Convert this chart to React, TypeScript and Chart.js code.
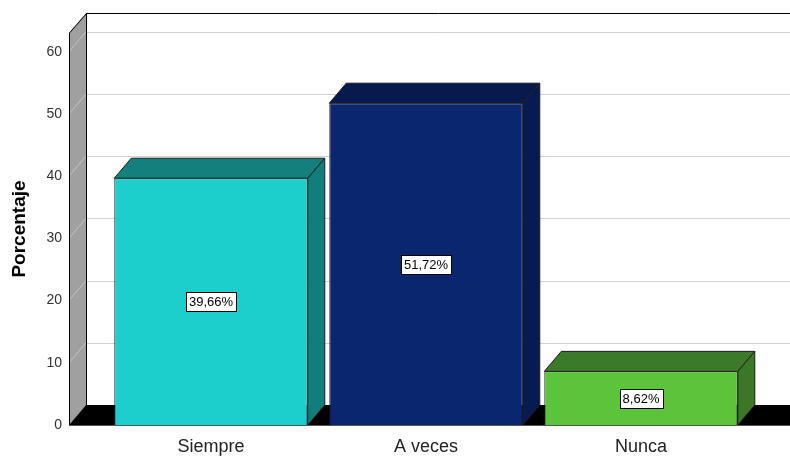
import React, { useEffect, useRef } from "react";
import { Chart, registerables } from "chart.js";

Chart.register(...registerables);

const categories = ["Siempre", "A veces", "Nunca"];
const percentages = [39.66, 51.72, 8.62];
const valueLabels = ["39,66%", "51,72%", "8,62%"];
const yTicks = [0, 10, 20, 30, 40, 50, 60];
const frontColors = ["#1ccfcc", "#0a266f", "#5cc43a"];
const topColors = ["#13807d", "#061a4e", "#3b7a28"];
const sideColors = ["#127e7b", "#071b52", "#3a7826"];

const DX = 17;
const DY = -20;
const FONT = "'Liberation Sans', Arial, sans-serif";

function poly(ctx: CanvasRenderingContext2D, pts: number[][], fill?: string, stroke?: string) {
  ctx.beginPath();
  ctx.moveTo(pts[0][0], pts[0][1]);
  for (let i = 1; i < pts.length; i++) ctx.lineTo(pts[i][0], pts[i][1]);
  ctx.closePath();
  if (fill) {
    ctx.fillStyle = fill;
    ctx.fill();
  }
  if (stroke) {
    ctx.strokeStyle = stroke;
    ctx.lineWidth = 1;
    ctx.stroke();
  }
}

function line(ctx: CanvasRenderingContext2D, x1: number, y1: number, x2: number, y2: number) {
  ctx.beginPath();
  ctx.moveTo(x1, y1);
  ctx.lineTo(x2, y2);
  ctx.stroke();
}

const depthPlugin = {
  id: "depth3d",
  beforeDatasetsDraw(chart: any) {
    const { ctx, chartArea } = chart;
    const y = chart.scales.y;
    const L = chartArea.left;
    const B = chartArea.bottom;
    const T = chartArea.top;
    const R = chart.width + 20;
    ctx.save();
    ctx.strokeStyle = "#d2d2d2";
    ctx.lineWidth = 1;
    yTicks.forEach((v) => {
      if (v === 0) return;
      const py = Math.round(y.getPixelForValue(v) + DY) + 0.5;
      line(ctx, L + DX, py, R, py);
    });
    poly(ctx, [[L, B], [L + DX, B + DY], [L + DX, T + DY], [L, T]], "#a0a0a0");
    ctx.strokeStyle = "#c4c4c4";
    yTicks.forEach((v) => {
      if (v === 0) return;
      const py = y.getPixelForValue(v);
      line(ctx, L, py, L + DX, py + DY);
    });
    poly(ctx, [[L, B], [L + DX, B + DY], [R, B + DY], [R - DX, B]], "#000000");
    ctx.strokeStyle = "#000000";
    ctx.lineWidth = 1;
    ctx.beginPath();
    ctx.moveTo(L + 0.5, B);
    ctx.lineTo(L + 0.5, T);
    ctx.lineTo(L + DX + 0.5, T + DY + 0.5);
    ctx.lineTo(R, T + DY + 0.5);
    ctx.stroke();
    line(ctx, L + DX + 0.5, T + DY, L + DX + 0.5, B + DY);
    ctx.strokeStyle = "#555555";
    line(ctx, L, B + 0.5, R, B + 0.5);
    ctx.restore();
  },
  afterDatasetsDraw(chart: any) {
    const { ctx } = chart;
    const meta = chart.getDatasetMeta(0);
    ctx.save();
    meta.data.forEach((bar: any, i: number) => {
      const { x, y, base, width } = bar.getProps(["x", "y", "base", "width"], true);
      const x1 = x - width / 2;
      const x2 = x + width / 2;
      poly(ctx, [[x1, y], [x1 + DX, y + DY], [x2 + DX, y + DY], [x2, y]], topColors[i], "#1e1e1e");
      poly(ctx, [[x2, y], [x2 + DX, y + DY], [x2 + DX, base + DY], [x2, base]], sideColors[i], "#1e1e1e");
      ctx.font = `13px ${FONT}`;
      const text = valueLabels[i];
      const tw = ctx.measureText(text).width;
      const bw = Math.round(tw + 6);
      const bh = 19;
      const cy = (y + base) / 2;
      const bx = Math.round(x - bw / 2) + 0.5;
      const by = Math.round(cy - bh / 2) + 0.5;
      ctx.fillStyle = "#ffffff";
      ctx.fillRect(bx, by, bw, bh);
      ctx.strokeStyle = "#000000";
      ctx.lineWidth = 1;
      ctx.strokeRect(bx, by, bw, bh);
      ctx.fillStyle = "#000000";
      ctx.textAlign = "center";
      ctx.textBaseline = "middle";
      ctx.fillText(text, x, cy + 1);
    });
    ctx.restore();
  },
};

export default function App() {
  const ref = useRef<HTMLCanvasElement>(null);

  useEffect(() => {
    if (!ref.current) return;
    const chart = new Chart(ref.current, {
      type: "bar",
      data: {
        datasets: [
          {
            data: percentages.map((v, i) => ({ x: i, y: v })),
            backgroundColor: frontColors,
            borderColor: "#1e1e1e",
            borderWidth: 1,
            barPercentage: 0.9,
            categoryPercentage: 1,
          },
        ],
      },
      options: {
        responsive: false,
        animation: false,
        devicePixelRatio: 1,
        layout: { padding: { top: 33, right: 15, left: 0, bottom: 0 } },
        plugins: { legend: { display: false }, tooltip: { enabled: false } },
        scales: {
          x: {
            type: "linear",
            offset: false,
            bounds: "ticks",
            min: -0.6605,
            max: 2.623,
            grid: { display: false, offset: false },
            border: { display: false },
            afterBuildTicks: (scale: any) => {
              scale.ticks = categories.map((_, i) => ({ value: i }));
            },
            afterFit: (scale: any) => {
              scale.height = 31;
            },
            ticks: {
              callback: (v: any) => categories[v as number] ?? "",
              font: { family: FONT, size: 18 },
              color: "#222222",
              padding: 3,
              maxRotation: 0,
            },
          },
          y: {
            type: "linear",
            min: 0,
            max: 63,
            grid: { display: false, drawTicks: false },
            border: { display: false },
            afterBuildTicks: (scale: any) => {
              scale.ticks = yTicks.map((v) => ({ value: v }));
            },
            afterFit: (scale: any) => {
              scale.width = 69;
            },
            ticks: {
              font: { family: FONT, size: 14 },
              color: "#333333",
              padding: 7,
            },
            title: {
              display: true,
              text: "Porcentaje",
              font: { family: FONT, size: 19, weight: "bold" },
              color: "#000000",
              padding: { top: 8, bottom: 0 },
            },
          },
        },
      },
      plugins: [depthPlugin],
    } as any);
    return () => chart.destroy();
  }, []);

  return (
    <div style={{ position: "fixed", left: 0, top: 0, width: 790, height: 456, background: "#ffffff" }}>
      <canvas ref={ref} width={790} height={456} style={{ width: 790, height: 456, display: "block" }} />
    </div>
  );
}
